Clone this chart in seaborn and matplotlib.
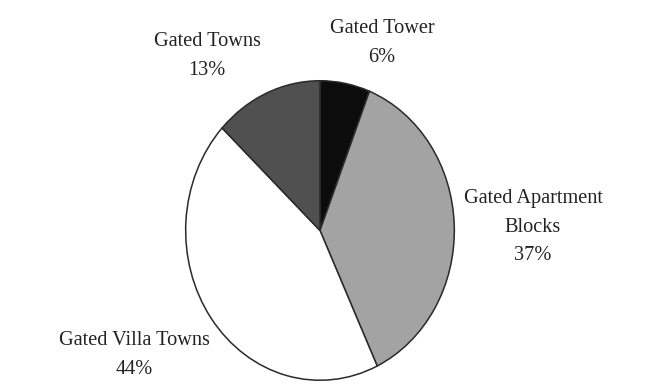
import matplotlib
matplotlib.use("Agg")
import matplotlib.pyplot as plt
import seaborn as sns

# Data
categories = ["Gated Tower", "Gated Apartment\nBlocks", "Gated Villa Towns", "Gated Towns"]
shares = [6, 37, 44, 13]
colors = ["#0c0c0c", "#a3a3a3", "#ffffff", "#505050"]

sns.set_theme(style="white")
plt.rcParams["font.family"] = ["Liberation Serif", "DejaVu Serif"]

W, H = 649, 385
fig = plt.figure(figsize=(W / 100, H / 100), dpi=100)
fig.patch.set_facecolor("white")

# pie bounding box in pixels: x 185-455, y 80-381
left, right, top, bottom = 185, 455, 80, 381
ax = fig.add_axes([left / W, (H - bottom) / H, (right - left) / W, (bottom - top) / H])
ax.pie(shares, colors=colors, startangle=90, counterclock=False,
       wedgeprops=dict(edgecolor="#2a2a2a", linewidth=1.1))
ax.set_aspect("auto")
ax.set_xlim(-1.005, 1.005)
ax.set_ylim(-1.005, 1.005)
ax.axis("off")

# label centers in pixels
label_pos = [(382, 43), (533, 227), (134, 355), (207, 56)]
for name, val, (px, py) in zip(categories, shares, label_pos):
    fig.text(px / W, 1 - py / H, f"{name}\n{val}%", ha="center", va="center",
             fontsize=14.6, color="#222222", linespacing=1.68)

fig.savefig("out.png", dpi=100, facecolor="white")
